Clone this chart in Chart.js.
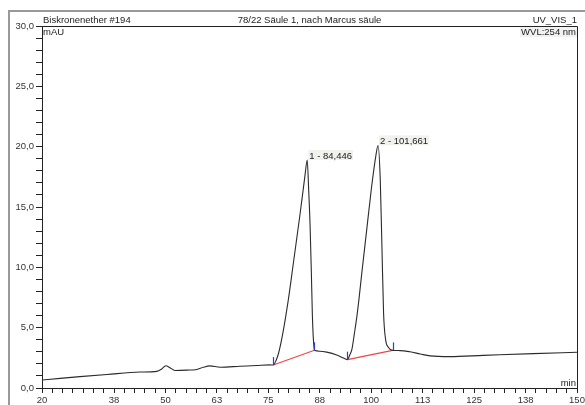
<!DOCTYPE html>
<html>
<head>
<meta charset="utf-8">
<title>Biskronenether #194</title>
<script src="https://cdn.jsdelivr.net/npm/chart.js"></script>
<style>
  html, body { margin: 0; padding: 0; background: #fff; }
</style>
</head>
<body>
<canvas id="chrom" width="585" height="405"></canvas>
<script>
// trace: retention time (min) / signal (mAU)
var times = [20, 24.4, 29.2, 35.8, 43.8, 47.9, 49.1, 50.1, 51.1, 52.3, 55.2, 57.6, 59.2, 60.8, 63.3, 68.1, 72.2, 75.4,
  76.2, 76.9, 77.5, 78.5, 79.85, 81.1, 82.7, 83.9, 84.446, 84.8, 85.13, 85.45, 85.7, 85.9, 86.1, 86.2,
  87.5, 89.2, 91.6, 92.8, 93.6, 94.2,
  94.8, 95.3, 95.9, 96.5, 97.0, 97.7, 98.9, 100.1, 101.1, 101.661, 102.2, 102.6, 103.0, 103.5, 104.1, 105.2,
  107.0, 109.4, 111.9, 114.3, 119.1, 127.2, 139.4, 150];
var signal = [0.66, 0.8, 0.94, 1.12, 1.32, 1.38, 1.58, 1.85, 1.68, 1.45, 1.48, 1.54, 1.72, 1.83, 1.72, 1.8, 1.87, 1.92,
  1.9, 2.3, 2.9, 4.5, 7.3, 10.4, 14.4, 17.6, 18.9, 16.4, 13.6, 9.6, 6.0, 4.3, 3.35, 3.12,
  3.05, 2.97, 2.74, 2.55, 2.42, 2.35,
  2.75, 3.2, 4.5, 5.9, 7.3, 9.5, 13.1, 16.7, 19.2, 20.1, 17.2, 11.7, 6.2, 4.0, 3.4, 3.12,
  3.1, 3.0, 2.82, 2.66, 2.6, 2.7, 2.85, 2.96];

// integration baselines (start / end of each peak)
var base1T = [76.2, 86.2];
var base1V = [1.9, 3.12];
var base2T = [94.2, 105.2];
var base2V = [2.35, 3.12];

// peak annotations
var peakNames = ['1 - 84,446', '2 - 101,661'];
var peakT = [84.446, 101.661];
var peakV = [18.9, 20.1];

// axis ticks
var xLabelTicks = [20, 37.5, 50, 62.5, 75, 87.5, 100, 112.5, 125, 137.5, 150];
var yLabelTicks = [0, 5, 10, 15, 20, 25, 30];
var xMinorStep = 2.5;
var yMinorStep = 1;

var xTickValues = [];
for (var t = 20; t <= 150.001; t += xMinorStep) xTickValues.push(t);
var yTickValues = [];
for (var v = 0; v <= 30.001; v += yMinorStep) yTickValues.push(v);

function toPts(xs, ys) {
  return xs.map(function (x, i) { return { x: x, y: ys[i] }; });
}

var FONT = '"Liberation Sans", Arial, sans-serif';
var INK = '#222';

var chromPlugin = {
  id: 'chrom',
  beforeDraw: function (chart) {
    var ctx = chart.ctx;
    ctx.save();
    ctx.fillStyle = '#999';
    ctx.fillRect(8, 10, 2, 400);
    ctx.fillRect(8, 10, 600, 2);
    ctx.restore();
  },
  afterDraw: function (chart) {
    var ctx = chart.ctx, a = chart.chartArea;
    var xs = chart.scales.x, ys = chart.scales.y;
    ctx.save();
    // frame top / right
    ctx.strokeStyle = INK;
    ctx.lineWidth = 1;
    ctx.beginPath();
    ctx.moveTo(a.left, a.top + 0.5);
    ctx.lineTo(a.right + 0.5, a.top + 0.5);
    ctx.lineTo(a.right + 0.5, a.bottom);
    ctx.stroke();

    // header
    ctx.font = '9.5px ' + FONT;
    ctx.fillStyle = INK;
    ctx.textBaseline = 'alphabetic';
    ctx.textAlign = 'left';
    ctx.fillText('Biskronenether #194', a.left + 1, a.top - 3);
    ctx.textAlign = 'center';
    ctx.fillText('78/22 Säule 1, nach Marcus säule', (a.left + a.right) / 2, a.top - 3);
    ctx.textAlign = 'right';
    ctx.fillText('UV_VIS_1', a.right, a.top - 3);

    // inner labels
    ctx.textBaseline = 'top';
    ctx.fillStyle = '#f1f1f1';
    var w = ctx.measureText('WVL:254 nm').width;
    ctx.fillRect(a.right - w - 2, a.top + 1, w + 2, 10);
    ctx.fillStyle = INK;
    ctx.fillText('WVL:254 nm', a.right - 1, a.top + 2);
    ctx.textAlign = 'left';
    ctx.fillText('mAU', a.left + 1, a.top + 2);
    ctx.textAlign = 'right';
    ctx.textBaseline = 'alphabetic';
    ctx.fillText('min', a.right - 1, a.bottom - 2);

    // boundary marks
    ctx.strokeStyle = '#2a3fd0';
    ctx.lineWidth = 1.2;
    [[base1T, base1V], [base2T, base2V]].forEach(function (b) {
      for (var i = 0; i < 2; i++) {
        var px = Math.round(xs.getPixelForValue(b[0][i])) + 0.5;
        var py = ys.getPixelForValue(b[1][i]);
        ctx.beginPath();
        ctx.moveTo(px, py);
        ctx.lineTo(px, py - 8);
        ctx.stroke();
      }
    });

    // peak labels
    ctx.textAlign = 'left';
    ctx.textBaseline = 'bottom';
    for (var k = 0; k < peakNames.length; k++) {
      var lx = xs.getPixelForValue(peakT[k]) + 1;
      var ly = ys.getPixelForValue(peakV[k]);
      var tw = ctx.measureText(peakNames[k]).width;
      ctx.fillStyle = '#f1f1ee';
      ctx.fillRect(lx, ly - 10, tw + 2, 10);
      ctx.fillStyle = INK;
      ctx.fillText(peakNames[k], lx + 1, ly + 1);
    }
    ctx.restore();
  }
};

new Chart(document.getElementById('chrom'), {
  type: 'line',
  data: {
    datasets: [
      {
        data: toPts(times, signal),
        borderColor: '#2b2b2b',
        borderWidth: 1.1,
        pointRadius: 0,
        cubicInterpolationMode: 'monotone',
        order: 1
      },
      {
        data: toPts(base1T, base1V),
        borderColor: '#ee4444',
        borderWidth: 1.1,
        pointRadius: 0,
        order: 2
      },
      {
        data: toPts(base2T, base2V),
        borderColor: '#ee4444',
        borderWidth: 1.1,
        pointRadius: 0,
        order: 2
      }
    ]
  },
  options: {
    responsive: false,
    animation: false,
    events: [],
    layout: { padding: { top: 26, right: 8, left: 0, bottom: 0 } },
    plugins: { legend: { display: false }, tooltip: { enabled: false }, title: { display: false } },
    scales: {
      x: {
        type: 'linear',
        min: 20,
        max: 150,
        afterBuildTicks: function (s) { s.ticks = xTickValues.map(function (v) { return { value: v }; }); },
        afterFit: function (s) { s.height = 17; s.paddingLeft = 0; s.paddingRight = 0; },
        grid: { drawOnChartArea: false, tickLength: 5, tickColor: INK },
        border: { display: true, color: INK, width: 1 },
        ticks: {
          autoSkip: false,
          maxRotation: 0,
          padding: 2,
          color: '#333',
          font: { family: FONT, size: 9.5 },
          callback: function (v) {
            return xLabelTicks.some(function (m) { return Math.abs(m - v) < 1e-6; }) ? String(Math.round(v)) : '';
          }
        }
      },
      y: {
        type: 'linear',
        min: 0,
        max: 30,
        afterBuildTicks: function (s) { s.ticks = yTickValues.map(function (v) { return { value: v }; }); },
        afterFit: function (s) { s.width = 42; s.paddingTop = 0; s.paddingBottom = 0; },
        grid: { drawOnChartArea: false, tickLength: 6, tickColor: INK },
        border: { display: true, color: INK, width: 1 },
        ticks: {
          autoSkip: false,
          padding: 2,
          color: '#333',
          font: { family: FONT, size: 9.5 },
          callback: function (v) {
            return yLabelTicks.indexOf(Math.round(v * 1000) / 1000) >= 0 ? v.toFixed(1).replace('.', ',') : '';
          }
        }
      }
    }
  },
  plugins: [chromPlugin]
});
</script>
</body>
</html>
